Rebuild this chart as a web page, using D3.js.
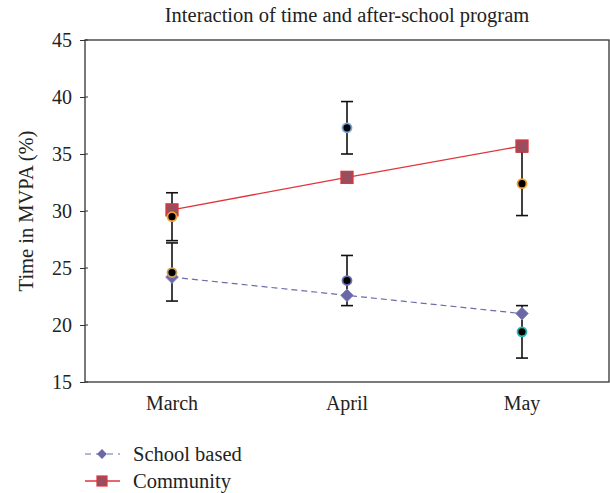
<!DOCTYPE html>
<html>
<head>
<meta charset="utf-8">
<script src="https://cdn.jsdelivr.net/npm/d3@7"></script>
<style>
  body { margin: 0; background: #fff; }
  svg text { font-family: "Liberation Serif", "DejaVu Serif", serif; fill: #222; }
</style>
</head>
<body>
<div id="chart"></div>
<script>
// dados
const months = ["March", "April", "May"];
const schoolMeans = [24.2, 22.6, 21.0];
const communityMeans = [30.1, 32.95, 35.7];

// pontos observados com barras de erro
const obsSchool = [24.6, 23.9, 19.4];
const obsSchoolLow = [22.1, 21.7, 17.1];
const obsSchoolHigh = [27.2, 26.1, 21.7];
const obsSchoolColor = ["#c9a15e", "#6f72b0", "#2bb8b2"];

const obsCommunity = [29.5, 37.3, 32.4];
const obsCommunityLow = [27.4, 35.0, 29.6];
const obsCommunityHigh = [31.6, 39.6, 35.2];
const obsCommunityColor = ["#f2a12e", "#6fa8dc", "#f2a12e"];

const yTicks = [15, 20, 25, 30, 35, 40, 45];

const width = 610, height = 493;
const margin = { top: 40, right: 1, bottom: 111, left: 85 };

const svg = d3.select("#chart").append("svg").attr("width", width).attr("height", height);

const x = d3.scalePoint().domain(months).range([172, 522]);
const y = d3.scaleLinear().domain([15, 45]).range([height - margin.bottom, margin.top]);

// moldura
svg.append("rect")
  .attr("x", margin.left).attr("y", margin.top)
  .attr("width", width - margin.right - margin.left)
  .attr("height", y(15) - margin.top)
  .attr("fill", "none").attr("stroke", "#333").attr("stroke-width", 1.3);

// eixo Y
const yAxis = svg.append("g")
  .attr("transform", `translate(${margin.left},0)`)
  .call(d3.axisLeft(y).tickValues(yTicks).tickSize(5).tickPadding(8));
yAxis.select(".domain").remove();
yAxis.selectAll("line").attr("stroke", "#333");
yAxis.selectAll("text").style("font-size", "20px").style("font-family", "Liberation Serif, serif")
  .attr("dy", "0.34em");

// ticks a cruzar o eixo
svg.selectAll(".ytick-in").data(yTicks).enter().append("line")
  .attr("x1", margin.left).attr("x2", margin.left + 3)
  .attr("y1", d => y(d)).attr("y2", d => y(d))
  .attr("stroke", "#333");

// eixo X (só etiquetas)
svg.selectAll(".xlab").data(months).enter().append("text")
  .attr("x", d => x(d)).attr("y", 410)
  .attr("text-anchor", "middle").style("font-size", "20px")
  .text(d => d);

// títulos
svg.append("text").attr("x", 347).attr("y", 22).attr("text-anchor", "middle")
  .style("font-size", "20.5px").text("Interaction of time and after-school program");

svg.append("text").attr("transform", "translate(33,211) rotate(-90)")
  .attr("text-anchor", "middle").style("font-size", "20.5px").text("Time in MVPA (%)");

// linhas das médias
const line = d3.line().x((d, i) => x(months[i])).y(d => y(d));

svg.append("path").datum(schoolMeans).attr("d", line)
  .attr("fill", "none").attr("stroke", "#6b6ea8").attr("stroke-width", 1.2)
  .attr("stroke-dasharray", "6,4");

svg.append("path").datum(communityMeans).attr("d", line)
  .attr("fill", "none").attr("stroke", "#e0353b").attr("stroke-width", 1.3);

// barras de erro
function errorBars(lo, hi) {
  const g = svg.append("g");
  months.forEach((m, i) => {
    const cx = x(m);
    g.append("line").attr("x1", cx).attr("x2", cx).attr("y1", y(lo[i])).attr("y2", y(hi[i]))
      .attr("stroke", "#111").attr("stroke-width", 1.6);
    [lo[i], hi[i]].forEach(v => {
      g.append("line").attr("x1", cx - 6).attr("x2", cx + 6).attr("y1", y(v)).attr("y2", y(v))
        .attr("stroke", "#111").attr("stroke-width", 1.6);
    });
  });
}
errorBars(obsSchoolLow, obsSchoolHigh);
errorBars(obsCommunityLow, obsCommunityHigh);

// marcadores das médias (losango = quadrado rodado)
svg.selectAll(".sch").data(schoolMeans).enter().append("rect")
  .attr("x", -4.5).attr("y", -4.5).attr("width", 9).attr("height", 9)
  .attr("transform", (d, i) => `translate(${x(months[i])},${y(d)}) rotate(45)`)
  .attr("fill", "#6a68a6").attr("stroke", "#8a88bf").attr("stroke-width", 0.8);

svg.selectAll(".com").data(communityMeans).enter().append("rect")
  .attr("x", (d, i) => x(months[i]) - 6).attr("y", d => y(d) - 6)
  .attr("width", 12).attr("height", 12)
  .attr("fill", "#9a4d5e").attr("stroke", "#e0353b").attr("stroke-width", 1.3);

// pontos observados
svg.selectAll(".os").data(obsSchool).enter().append("circle")
  .attr("cx", (d, i) => x(months[i])).attr("cy", d => y(d)).attr("r", 4.5)
  .attr("fill", "#000").attr("stroke", (d, i) => obsSchoolColor[i]).attr("stroke-width", 1.8);

svg.selectAll(".oc").data(obsCommunity).enter().append("circle")
  .attr("cx", (d, i) => x(months[i])).attr("cy", d => y(d)).attr("r", 4.5)
  .attr("fill", "#000").attr("stroke", (d, i) => obsCommunityColor[i]).attr("stroke-width", 1.8);

// legenda
const leg = svg.append("g");
leg.append("line").attr("x1", 85).attr("x2", 120).attr("y1", 454).attr("y2", 454)
  .attr("stroke", "#6b6ea8").attr("stroke-width", 1.2).attr("stroke-dasharray", "6,5");
leg.append("rect").attr("x", -3.5).attr("y", -3.5).attr("width", 7).attr("height", 7)
  .attr("transform", "translate(102,454) rotate(45)").attr("fill", "#6a68a6");
leg.append("text").attr("x", 133).attr("y", 461).style("font-size", "20.5px").text("School based");

leg.append("line").attr("x1", 85).attr("x2", 120).attr("y1", 481).attr("y2", 481)
  .attr("stroke", "#e0353b").attr("stroke-width", 1.3);
leg.append("rect").attr("x", 97).attr("y", 476).attr("width", 10).attr("height", 10)
  .attr("fill", "#9a4d5e").attr("stroke", "#e0353b").attr("stroke-width", 1.2);
leg.append("text").attr("x", 133).attr("y", 488).style("font-size", "20.5px").text("Community");
</script>
</body>
</html>
